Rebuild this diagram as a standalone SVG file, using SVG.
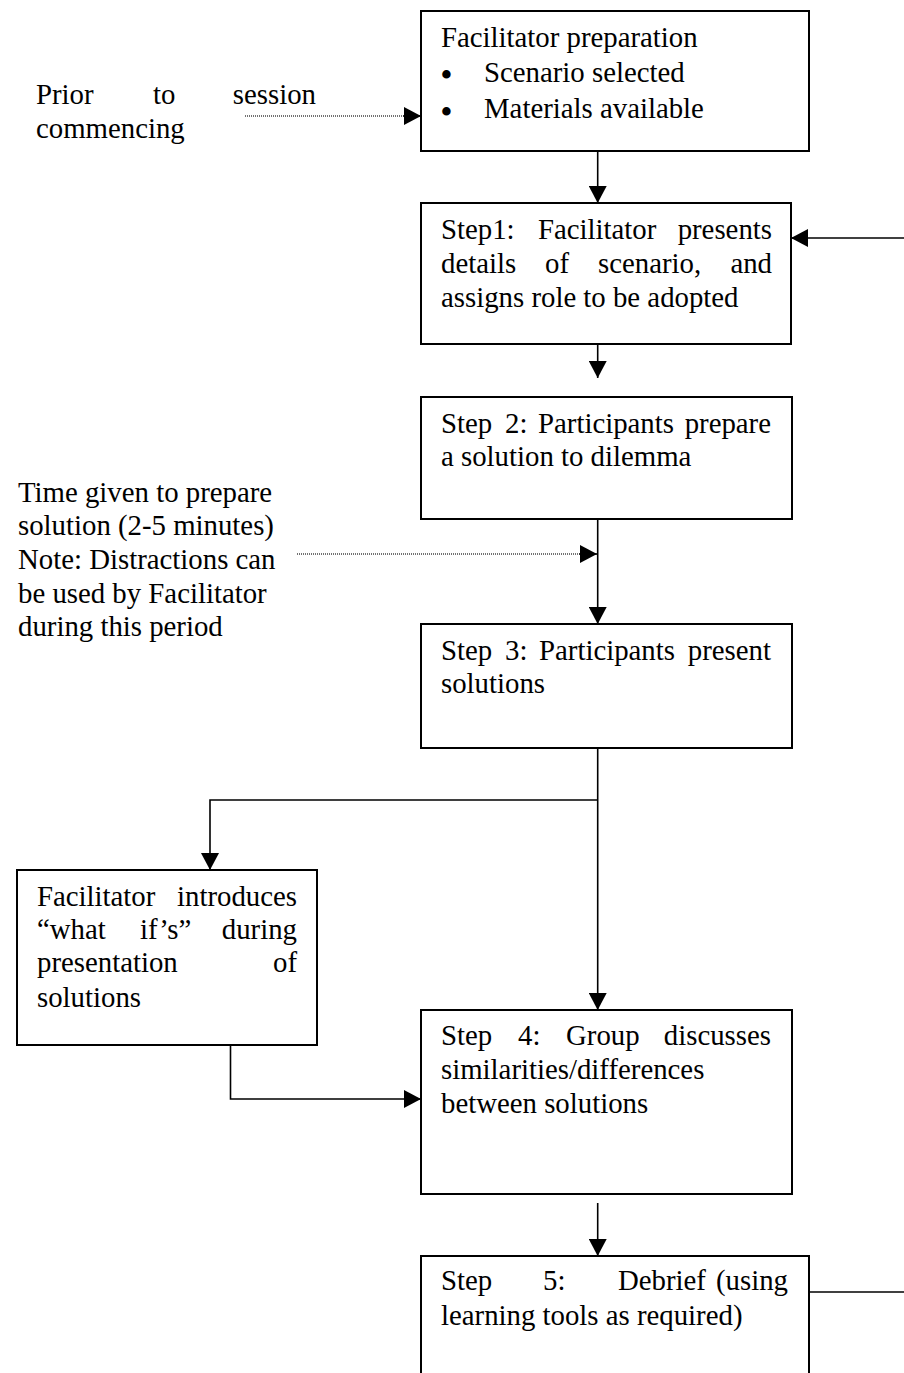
<svg xmlns="http://www.w3.org/2000/svg" width="904" height="1373" viewBox="0 0 904 1373">
<style>
text{font-family:"Liberation Serif","Times New Roman",serif;font-size:28.8px;fill:#000}
.box{fill:#fff;stroke:#000;stroke-width:2}
.ln{fill:none;stroke:#000;stroke-width:1.6}
.dot{fill:none;stroke:#444;stroke-width:1.6;stroke-dasharray:1 1}
.end{text-anchor:end}
.bul{font-size:31px;font-weight:bold}
</style>
<defs>
<marker id="ah" markerWidth="18" markerHeight="18" refX="17" refY="9" orient="auto" markerUnits="userSpaceOnUse">
<path d="M0,0 L17,9 L0,18 z" fill="#000"/>
</marker>
</defs>
<rect width="904" height="1373" fill="#fff"/>

<g id="connectors">
<line class="dot" x1="245" y1="116" x2="403" y2="116"/>
<line class="ln" x1="403" y1="116" x2="421" y2="116" marker-end="url(#ah)"/>
<line class="ln" x1="597.7" y1="151" x2="597.7" y2="203" marker-end="url(#ah)"/>
<line class="ln" x1="904" y1="238" x2="791" y2="238" stroke-width="2.2" marker-end="url(#ah)"/>
<line class="ln" x1="597.7" y1="344" x2="597.7" y2="378" marker-end="url(#ah)"/>
<line class="ln" x1="597.7" y1="519" x2="597.7" y2="624" marker-end="url(#ah)"/>
<line class="dot" x1="297" y1="554" x2="579" y2="554"/>
<line class="ln" x1="579" y1="554" x2="597" y2="554" marker-end="url(#ah)"/>
<line class="ln" x1="597.7" y1="748" x2="597.7" y2="1010" marker-end="url(#ah)"/>
<polyline class="ln" points="597.7,800 210,800 210,870" marker-end="url(#ah)"/>
<polyline class="ln" points="230.5,1045 230.5,1099 421,1099" marker-end="url(#ah)"/>
<line class="ln" x1="597.7" y1="1203" x2="597.7" y2="1256" marker-end="url(#ah)"/>
<line class="ln" x1="809" y1="1292" x2="904" y2="1292"/>
</g>

<g id="prior">
<text x="36" y="104">Prior</text>
<text x="153" y="104">to</text>
<text x="316" y="104" class="end">session</text>
<text x="36" y="138">commencing</text>
</g>

<g id="prep">
<rect class="box" x="421" y="11" width="388" height="140"/>
<text x="441" y="47">Facilitator preparation</text>
<text class="bul" x="441" y="85">•</text>
<text x="484" y="82">Scenario selected</text>
<text class="bul" x="441" y="122">•</text>
<text x="484" y="118">Materials available</text>
</g>

<g id="step1">
<rect class="box" x="421" y="203" width="370" height="141"/>
<text x="441" y="239">Step1:</text>
<text x="538" y="239">Facilitator</text>
<text x="772" y="239" class="end">presents</text>
<text x="441" y="273">details</text>
<text x="545" y="273">of</text>
<text x="598" y="273">scenario,</text>
<text x="772" y="273" class="end">and</text>
<text x="441" y="307">assigns role to be adopted</text>
</g>

<g id="step2">
<rect class="box" x="421" y="397" width="371" height="122"/>
<text x="441" y="433">Step</text>
<text x="505" y="433">2:</text>
<text x="538" y="433">Participants</text>
<text x="771" y="433" class="end">prepare</text>
<text x="441" y="466">a solution to dilemma</text>
</g>

<g id="timenote">
<text x="18" y="502">Time given to prepare</text>
<text x="18" y="535">solution (2-5 minutes)</text>
<text x="18" y="569">Note: Distractions can</text>
<text x="18" y="603">be used by Facilitator</text>
<text x="18" y="636">during this period</text>
</g>

<g id="step3">
<rect class="box" x="421" y="624" width="371" height="124"/>
<text x="441" y="660">Step</text>
<text x="505" y="660">3:</text>
<text x="539" y="660">Participants</text>
<text x="771" y="660" class="end">present</text>
<text x="441" y="693">solutions</text>
</g>

<g id="whatif">
<rect class="box" x="17" y="870" width="300" height="175"/>
<text x="37" y="906">Facilitator</text>
<text x="297" y="906" class="end">introduces</text>
<text x="37" y="939">“what</text>
<text x="140" y="939">if’s”</text>
<text x="297" y="939" class="end">during</text>
<text x="37" y="972">presentation</text>
<text x="297" y="972" class="end">of</text>
<text x="37" y="1007">solutions</text>
</g>

<g id="step4">
<rect class="box" x="421" y="1010" width="371" height="184"/>
<text x="441" y="1045">Step</text>
<text x="518" y="1045">4:</text>
<text x="566" y="1045">Group</text>
<text x="771" y="1045" class="end">discusses</text>
<text x="441" y="1079">similarities/differences</text>
<text x="441" y="1113">between solutions</text>
</g>

<g id="step5">
<rect class="box" x="421" y="1256" width="388" height="160"/>
<text x="441" y="1290">Step</text>
<text x="543" y="1290">5:</text>
<text x="618" y="1290">Debrief</text>
<text x="788" y="1290" class="end">(using</text>
<text x="441" y="1325">learning tools as required)</text>
</g>
</svg>
